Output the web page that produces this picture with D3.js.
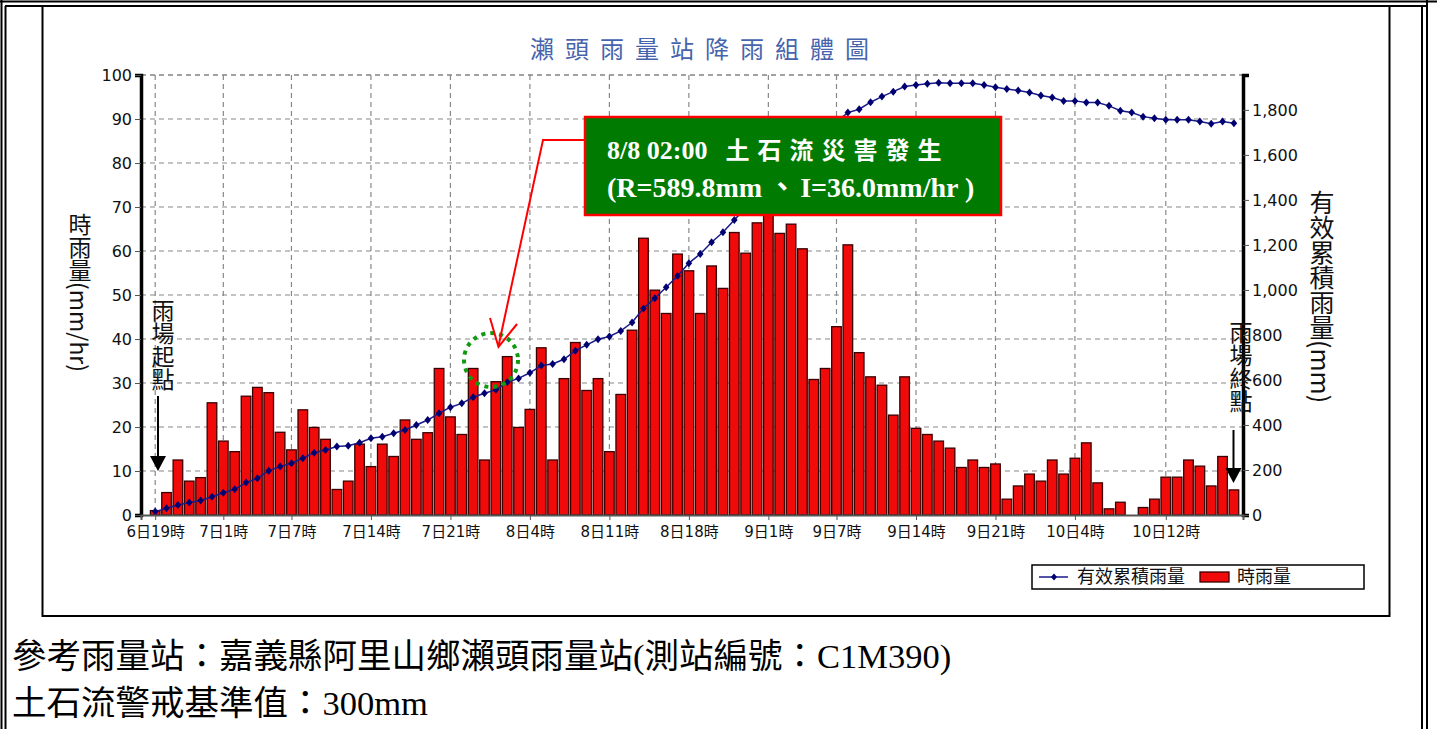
<!DOCTYPE html>
<html>
<head>
<meta charset="utf-8">
<script src="https://cdn.jsdelivr.net/npm/d3@7"></script>
<style>
body { margin:0; background:#fff; }
svg { display:block; }
</style>
</head>
<body>
<div id="chart"></div>
<script>
// hourly rain (mm/hr), one value per hour from 6日19時
var hourlyRain = [1, 5.1, 12.5, 7.7, 8.5, 25.5, 16.8, 14.4, 27.0, 29.0, 27.8, 18.8, 14.8, 23.9, 19.9, 17.2,
  5.8, 7.7, 16.1, 11.0, 16.1, 13.3, 21.6, 17.2, 18.7, 33.3, 22.3, 18.3, 33.3, 12.5, 30.3, 36.0,
  19.9, 24.0, 38.0, 12.5, 31.0, 39.2, 28.3, 31.0, 14.4, 27.4, 42.0, 62.9, 51.1, 45.8, 59.3, 55.5,
  45.8, 56.6, 51.5, 64.2, 59.5, 66.4, 69.0, 64.0, 66.1, 60.5, 30.8, 33.3, 42.8, 61.4, 36.9, 31.4,
  29.5, 22.7, 31.4, 19.7, 18.3, 16.8, 15.2, 10.8, 12.5, 10.8, 11.6, 3.6, 6.6, 9.3, 7.7, 12.5,
  9.3, 12.9, 16.4, 7.3, 1.4, 2.9, 0, 1.7, 3.6, 8.6, 8.6, 12.5, 11.1, 6.6, 13.3, 5.7];

// effective cumulative rain (mm)
var cumRain = [15, 30, 44, 55, 64, 81, 99, 114, 144, 163, 197, 215, 230, 252, 277, 289,
  304, 308, 321, 341, 348, 363, 378, 400, 422, 452, 479, 496, 523, 541, 556, 590,
  607, 632, 664, 671, 692, 730, 756, 781, 793, 818, 855, 918, 963, 1012, 1062, 1119,
  1160, 1212, 1256, 1311, 1365, 1425, 1488, 1545, 1605, 1660, 1685, 1712, 1748, 1788, 1803, 1834,
  1859, 1881, 1904, 1911, 1916, 1921, 1918, 1918, 1918, 1911, 1901, 1893, 1886, 1877, 1864, 1855,
  1840, 1840, 1833, 1833, 1818, 1796, 1788, 1770, 1763, 1756, 1756, 1756, 1748, 1738, 1748, 1741];

var tickHours = [0, 6, 12, 19, 26, 33, 40, 47, 54, 60, 67, 74, 81, 89];
var tickLabels = ["6日19時", "7日1時", "7日7時", "7日14時", "7日21時", "8日4時", "8日11時",
  "8日18時", "9日1時", "9日7時", "9日14時", "9日21時", "10日4時", "10日12時"];
var leftTicks = [0, 10, 20, 30, 40, 50, 60, 70, 80, 90, 100];
var rightTicks = [0, 200, 400, 600, 800, 1000, 1200, 1400, 1600, 1800];

var W = 1437, H = 729;
var pL = 141, pR = 1243, pT = 75, pB = 515;
var cjk = "'Noto Sans CJK TC', sans-serif";
var tickFont = "'DejaVu Sans', 'Noto Sans CJK TC', sans-serif";
var serif = "'Liberation Serif', 'Noto Sans CJK TC', serif";

var svg = d3.select("#chart").append("svg")
    .attr("width", W).attr("height", H);

// page frame
svg.append("line").attr("x1",0).attr("x2",W).attr("y1",1.5).attr("y2",1.5).attr("stroke","#000").attr("stroke-width",2);
svg.append("line").attr("x1",5).attr("x2",1427).attr("y1",6).attr("y2",6).attr("stroke","#000").attr("stroke-width",2);
svg.append("line").attr("x1",1.5).attr("x2",1.5).attr("y1",0).attr("y2",H).attr("stroke","#000").attr("stroke-width",2);
svg.append("line").attr("x1",5.5).attr("x2",5.5).attr("y1",6).attr("y2",H).attr("stroke","#000").attr("stroke-width",2);
svg.append("line").attr("x1",1422).attr("x2",1422).attr("y1",6).attr("y2",H).attr("stroke","#000").attr("stroke-width",2);
svg.append("line").attr("x1",1427).attr("x2",1427).attr("y1",0).attr("y2",H).attr("stroke","#000").attr("stroke-width",2);
svg.append("rect").attr("x",42.5).attr("y",6).attr("width",1347).attr("height",610)
  .attr("fill","none").attr("stroke","#000").attr("stroke-width",2);

var x = d3.scaleLinear().domain([-1.25, 95.8]).range([pL, pR]);
var yL = d3.scaleLinear().domain([0, 100]).range([pB, pT]);
var yR = d3.scaleLinear().domain([0, 1955]).range([pB, pT]);

// title
svg.append("text").attr("x", 705).attr("y", 58)
  .attr("text-anchor","middle")
  .style("font-family", cjk).style("font-size","24px").style("letter-spacing","11px")
  .attr("fill","#4664ad")
  .text("瀨頭雨量站降雨組體圖");

// grid
var grid = svg.append("g");
grid.selectAll(".hg").data(leftTicks.slice(1)).enter().append("line")
  .attr("x1", pL).attr("x2", pR)
  .attr("y1", d => yL(d)).attr("y2", d => yL(d))
  .attr("stroke", d => d == 100 ? "#444" : "#888")
  .attr("stroke-width", 1.2)
  .attr("stroke-dasharray","5,4");
grid.selectAll(".vg").data(tickHours).enter().append("line")
  .attr("x1", d => x(d)).attr("x2", d => x(d))
  .attr("y1", pT).attr("y2", pB)
  .attr("stroke","#888").attr("stroke-width",1.2)
  .attr("stroke-dasharray","5,4");

// bars
svg.append("g").selectAll("rect").data(hourlyRain).enter().append("rect")
  .attr("x", (d,i) => x(i) - 4.8)
  .attr("width", 9.6)
  .attr("y", d => yL(d))
  .attr("height", d => pB - yL(d))
  .attr("fill","#f00a0a")
  .attr("stroke","#3a0000").attr("stroke-width",1.3);

// cumulative line
var line = d3.line().x((d,i) => x(i)).y(d => yR(d));
svg.append("path").datum(cumRain).attr("d", line)
  .attr("fill","none").attr("stroke","#1a1a8a").attr("stroke-width",1.5);
svg.append("g").selectAll("path").data(cumRain).enter().append("path")
  .attr("d", (d,i) => "M" + x(i) + "," + (yR(d)-4) + "l3.3,4l-3.3,4l-3.3,-4z")
  .attr("fill","#000070");

// axes
var axL = svg.append("g").attr("transform","translate(" + pL + ",0)")
  .call(d3.axisLeft(yL).tickValues(leftTicks).tickSize(6).tickPadding(3));
var axR = svg.append("g").attr("transform","translate(" + pR + ",0)")
  .call(d3.axisRight(yR).tickValues(rightTicks).tickSize(6).tickPadding(3).tickFormat(d3.format(",")));
var axB = svg.append("g").attr("transform","translate(0," + pB + ")")
  .call(d3.axisBottom(x).tickValues(tickHours).tickSize(5).tickPadding(6)
    .tickFormat((d,i) => tickLabels[i]));
[axL, axR].forEach(function(a){
  a.select(".domain").attr("stroke","#000").attr("stroke-width",3.5);
  a.selectAll(".tick line").attr("stroke","#555");
  a.selectAll("text").style("font-family", tickFont).style("font-size","16px").attr("fill","#111");
});
axB.select(".domain").attr("stroke","#555").attr("stroke-width",2);
axB.selectAll(".tick line").attr("stroke","#555");
axB.selectAll("text").style("font-family", tickFont).style("font-size","15px").attr("fill","#111");

// axis titles (vertical)
function vtext(tx, ty, str, size) {
  return svg.append("text").attr("x", tx).attr("y", ty)
    .style("writing-mode","vertical-rl")
    .style("font-family", cjk).style("font-size", size + "px")
    .attr("fill","#111").text(str);
}
vtext(80, 213, "時雨量(mm/hr)", 23);
vtext(1322, 190, "有效累積雨量(mm)", 25);
vtext(163, 299, "雨場起點", 23);
vtext(1241, 321, "雨場終點", 23);

// start / end arrows
function arrow(ax, y0, y1) {
  svg.append("line").attr("x1", ax).attr("x2", ax).attr("y1", y0).attr("y2", y1)
    .attr("stroke","#000").attr("stroke-width",2);
  svg.append("path").attr("d", "M" + (ax-8) + "," + y1 + "L" + (ax+8) + "," + y1 + "L" + ax + "," + (y1+15) + "Z")
    .attr("fill","#000");
}
arrow(158, 396, 456);
arrow(1233.5, 430, 468);

// event annotation
svg.append("circle").attr("cx", 491).attr("cy", 360).attr("r", 27)
  .attr("fill","none").attr("stroke","#109a10").attr("stroke-width",4).attr("stroke-dasharray","4,5");
svg.append("path").attr("d","M585,140L543,140L498.5,346")
  .attr("fill","none").attr("stroke","#f00").attr("stroke-width",2);
svg.append("path").attr("d","M490,318L498.5,347L517,324")
  .attr("fill","none").attr("stroke","#f00").attr("stroke-width",2);
svg.append("rect").attr("x",585).attr("y",117).attr("width",416).attr("height",98)
  .attr("fill","#007a00").attr("stroke","#f00").attr("stroke-width",2.5);
var t1 = svg.append("text").attr("x",607).attr("y",159)
  .style("font-family", serif).style("font-weight","bold").style("font-size","26px").attr("fill","#fff");
t1.append("tspan").text("8/8 02:00");
t1.append("tspan").attr("dx", 18).style("letter-spacing","8px").style("font-size","24px").text("土石流災害發生");
var t2 = svg.append("text").attr("x",607).attr("y",197)
  .style("font-family", serif).style("font-weight","bold").style("font-size","28px").attr("fill","#fff");
t2.append("tspan").text("(R=589.8mm");
t2.append("tspan").attr("dx", 6).text("、");
t2.append("tspan").attr("dx", 4).text("I=36.0mm/hr )");

// legend
var lg = svg.append("g");
lg.append("rect").attr("x",1032).attr("y",565).attr("width",332).attr("height",24)
  .attr("fill","#fff").attr("stroke","#000").attr("stroke-width",1.5);
lg.append("line").attr("x1",1039).attr("x2",1068).attr("y1",577).attr("y2",577)
  .attr("stroke","#1a1a8a").attr("stroke-width",1.5);
lg.append("path").attr("d","M1054,573.5l3,3.5l-3,3.5l-3,-3.5z").attr("fill","#000070");
lg.append("text").attr("x",1077).attr("y",583).style("font-family",cjk).style("font-size","18px")
  .attr("fill","#111").text("有效累積雨量");
lg.append("rect").attr("x",1200).attr("y",572).attr("width",29).attr("height",10)
  .attr("fill","#f00a0a").attr("stroke","#3a0000").attr("stroke-width",1.3);
lg.append("text").attr("x",1237).attr("y",583).style("font-family",cjk).style("font-size","18px")
  .attr("fill","#111").text("時雨量");

// notes below chart
svg.append("text").attr("x",12).attr("y",668)
  .style("font-family", serif).style("font-size","34.5px").attr("fill","#000")
  .text("參考雨量站：嘉義縣阿里山鄉瀨頭雨量站(測站編號：C1M390)");
svg.append("text").attr("x",12).attr("y",715)
  .style("font-family", serif).style("font-size","34.5px").attr("fill","#000")
  .text("土石流警戒基準值：300mm");
</script>
</body>
</html>
